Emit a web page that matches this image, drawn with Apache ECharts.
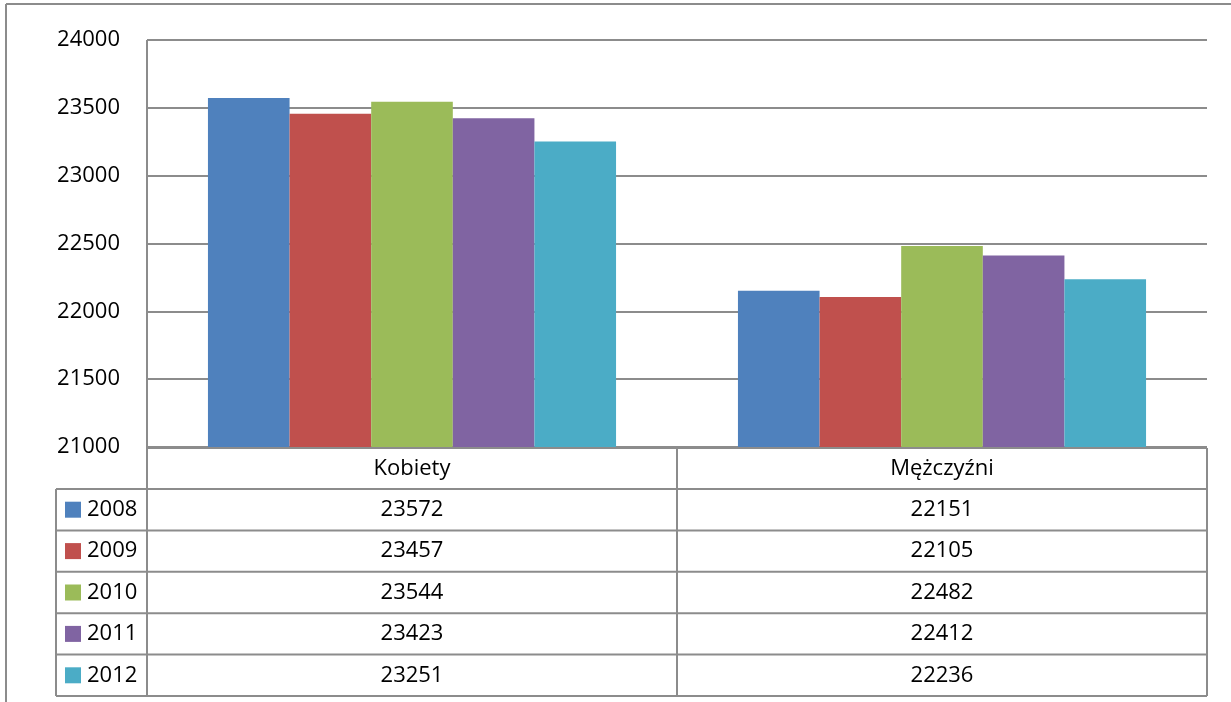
<!DOCTYPE html>
<html>
<head>
<meta charset="utf-8">
<script src="https://cdn.jsdelivr.net/npm/echarts@6/dist/echarts.min.js"></script>
<style>
  html, body { margin: 0; padding: 0; background: #fff; }
  #chart { width: 1231px; height: 702px; }
</style>
</head>
<body>
<div id="chart"></div>
<script>
const categories = ['Kobiety', 'Mężczyźni']
const years = ['2008', '2009', '2010', '2011', '2012']
const values2008 = [23572, 22151]
const values2009 = [23457, 22105]
const values2010 = [23544, 22482]
const values2011 = [23423, 22412]
const values2012 = [23251, 22236]
const seriesValues = [values2008, values2009, values2010, values2011, values2012]
const colors = ['#4F81BD', '#C0504D', '#9BBB59', '#8064A2', '#4BACC6']

const FONT = 'Open Sans'
const FONT_SIZE = 22
const lineColor = '#8c8c8c'

// plot box
const gridLeft = 147
const gridRight = 1207
const gridTop = 40
const gridBottom = 447

// data table under the plot
const legendLeft = 56
const headTop = 448
const headH = 41
const rowH = 41.4
const tableBottom = headTop + headH + rowH * years.length

const chart = echarts.init(document.getElementById('chart'))

function hLine(x1, x2, y) {
  return { type: 'line', shape: { x1, y1: y, x2, y2: y }, style: { stroke: lineColor, lineWidth: 2 }, z: 10 }
}
function vLine(x, y1, y2) {
  return { type: 'line', shape: { x1: x, y1, x2: x, y2 }, style: { stroke: lineColor, lineWidth: 2 }, z: 10 }
}
function cellText(text, x, y, align) {
  return {
    type: 'text', x, y, z: 11,
    style: { text, font: FONT_SIZE + 'px "' + FONT + '"', fill: '#000', align: align || 'center', verticalAlign: 'middle' }
  }
}

function buildTable() {
  const els = []
  const colW = (gridRight - gridLeft) / categories.length
  // outer frame of the picture
  els.push(hLine(6, 1231, 4))
  els.push(vLine(6, 4, 702))
  // header row
  els.push(hLine(gridLeft, gridRight, headTop))
  els.push(vLine(gridLeft, gridTop, tableBottom))
  els.push(vLine(gridRight, headTop, tableBottom))
  for (let c = 1; c < categories.length; c++) {
    els.push(vLine(gridLeft + colW * c, headTop, tableBottom))
  }
  categories.forEach((name, c) => {
    els.push(cellText(name, gridLeft + colW * (c + 0.5), headTop + headH / 2))
  })
  // rows
  els.push(vLine(legendLeft, headTop + headH, tableBottom))
  for (let r = 0; r <= years.length; r++) {
    els.push(hLine(legendLeft, gridRight, headTop + headH + rowH * r))
  }
  years.forEach((year, r) => {
    const cy = headTop + headH + rowH * (r + 0.5)
    els.push({ type: 'rect', shape: { x: 65, y: cy - 8, width: 16, height: 16 }, style: { fill: colors[r] }, z: 11 })
    els.push(cellText(year, 87, cy, 'left'))
    categories.forEach((name, c) => {
      els.push(cellText(String(seriesValues[r][c]), gridLeft + colW * (c + 0.5), cy))
    })
  })
  return els
}

const option = {
  animation: false,
  backgroundColor: '#fff',
  grid: {
    left: gridLeft,
    top: gridTop,
    width: gridRight - gridLeft,
    height: gridBottom - gridTop
  },
  xAxis: {
    type: 'category',
    data: categories,
    axisLine: { show: false },
    axisTick: { show: false },
    axisLabel: { show: false }
  },
  yAxis: {
    type: 'value',
    min: 21000,
    max: 24000,
    interval: 500,
    axisLine: { show: false },
    axisTick: { show: false },
    axisLabel: {
      color: '#000',
      fontSize: FONT_SIZE,
      fontFamily: FONT,
      margin: 27,
      formatter: v => String(v)
    },
    splitLine: { lineStyle: { color: lineColor, width: 2 } }
  },
  series: years.map((year, i) => ({
    name: year,
    type: 'bar',
    data: seriesValues[i],
    itemStyle: { color: colors[i] },
    barGap: '0%',
    barCategoryGap: '23%'
  })),
  graphic: buildTable()
}

chart.setOption(option)
</script>
</body>
</html>
